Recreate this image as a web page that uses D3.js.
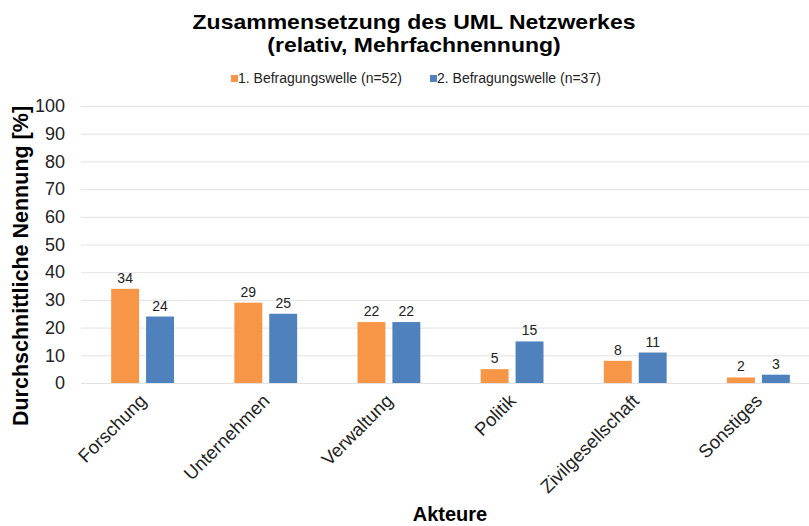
<!DOCTYPE html>
<html>
<head>
<meta charset="utf-8">
<script src="https://cdn.jsdelivr.net/npm/d3@7"></script>
<style>
  body { margin: 0; background: #fff; }
  text { font-family: Arial, "Liberation Sans", sans-serif; }
</style>
</head>
<body>
<div id="chart"></div>
<script>
const width = 809
const height = 526
const margin = ({ top: 106, right: -11, bottom: 143, left: 81 })

const categories = ['Forschung', 'Unternehmen', 'Verwaltung', 'Politik', 'Zivilgesellschaft', 'Sonstiges']
const seriesNames = ['1. Befragungswelle (n=52)', '2. Befragungswelle (n=37)']
const welle1 = [34, 29, 22, 5, 8, 2]
const welle2 = [24, 25, 22, 15, 11, 3]
const yTicks = [0, 10, 20, 30, 40, 50, 60, 70, 80, 90, 100]
const colors = ['#F79646', '#4F81BD']

const series = [welle1, welle2]

const svg = d3.select('#chart').append('svg')
  .attr('width', width)
  .attr('height', height)

let xScale = d3.scaleBand()
  .domain(categories)
  .range([margin.left, width - margin.right])
  .paddingInner(0.49)
  .paddingOuter(0.245)

let xInner = d3.scaleBand()
  .domain([0, 1])
  .range([0, xScale.bandwidth()])
  .paddingInner(0.2)

let yScale = d3.scaleLinear()
  .domain([0, 100])
  .range([height - margin.bottom, margin.top])

// gridlines
svg.append('g')
  .selectAll('line')
  .data(yTicks)
  .enter().append('line')
  .attr('x1', margin.left)
  .attr('x2', width)
  .attr('y1', d => yScale(d) + 0.5)
  .attr('y2', d => yScale(d) + 0.5)
  .attr('stroke', '#e2e2e2')
  .attr('stroke-width', 1)

// y axis labels
let yAxis = d3.axisLeft(yScale).tickValues(yTicks).tickSize(0).tickPadding(0)
svg.append('g')
  .attr('transform', 'translate(' + (margin.left - 16) + ',0)')
  .call(yAxis)
  .call(g => g.select('.domain').remove())
  .selectAll('text')
  .attr('fill', '#222')
  .style('font-family', 'Arial, "Liberation Sans", sans-serif')
  .style('font-size', '18px')

// bars
categories.forEach((c, i) => {
  series.forEach((s, j) => {
    const v = s[i]
    svg.append('rect')
      .attr('x', xScale(c) + xInner(j))
      .attr('y', yScale(v))
      .attr('width', xInner.bandwidth())
      .attr('height', yScale(0) - yScale(v))
      .attr('fill', colors[j])
    svg.append('text')
      .attr('x', xScale(c) + xInner(j) + xInner.bandwidth() / 2)
      .attr('y', yScale(v) - 6)
      .attr('text-anchor', 'middle')
      .attr('fill', '#222')
      .style('font-size', '14px')
      .text(v)
  })
})

// x axis labels
svg.append('g')
  .selectAll('text')
  .data(categories)
  .enter().append('text')
  .attr('transform', d => 'translate(' + (xScale(d) + xScale.bandwidth() / 2 + 5) + ',' + (yScale(0) + 19) + ') rotate(-45)')
  .attr('text-anchor', 'end')
  .attr('fill', '#222')
  .style('font-size', '18.5px')
  .text(d => d)

// title (slightly wide font in the original)
svg.append('text')
  .attr('transform', 'translate(414,29) scale(1.095,1)')
  .attr('text-anchor', 'middle')
  .style('font-size', '21px')
  .style('font-weight', 700)
  .text('Zusammensetzung des UML Netzwerkes')
svg.append('text')
  .attr('transform', 'translate(414,52) scale(1.095,1)')
  .attr('text-anchor', 'middle')
  .style('font-size', '21px')
  .style('font-weight', 700)
  .text('(relativ, Mehrfachnennung)')

// legend
const legendX = [231, 430]
seriesNames.forEach((n, j) => {
  svg.append('rect')
    .attr('x', legendX[j])
    .attr('y', 75)
    .attr('width', 7)
    .attr('height', 7)
    .attr('fill', colors[j])
  svg.append('text')
    .attr('x', legendX[j] + 7)
    .attr('y', 83)
    .attr('fill', '#222')
    .style('font-size', '14px')
    .text(n)
})

// axis titles
svg.append('text')
  .attr('transform', 'translate(28,' + 266 + ') rotate(-90)')
  .attr('text-anchor', 'middle')
  .style('font-size', '21.5px')
  .style('font-weight', 700)
  .text('Durchschnittliche Nennung [%]')

svg.append('text')
  .attr('x', 450)
  .attr('y', 521)
  .attr('text-anchor', 'middle')
  .style('font-size', '20px')
  .style('font-weight', 700)
  .text('Akteure')
</script>
</body>
</html>
